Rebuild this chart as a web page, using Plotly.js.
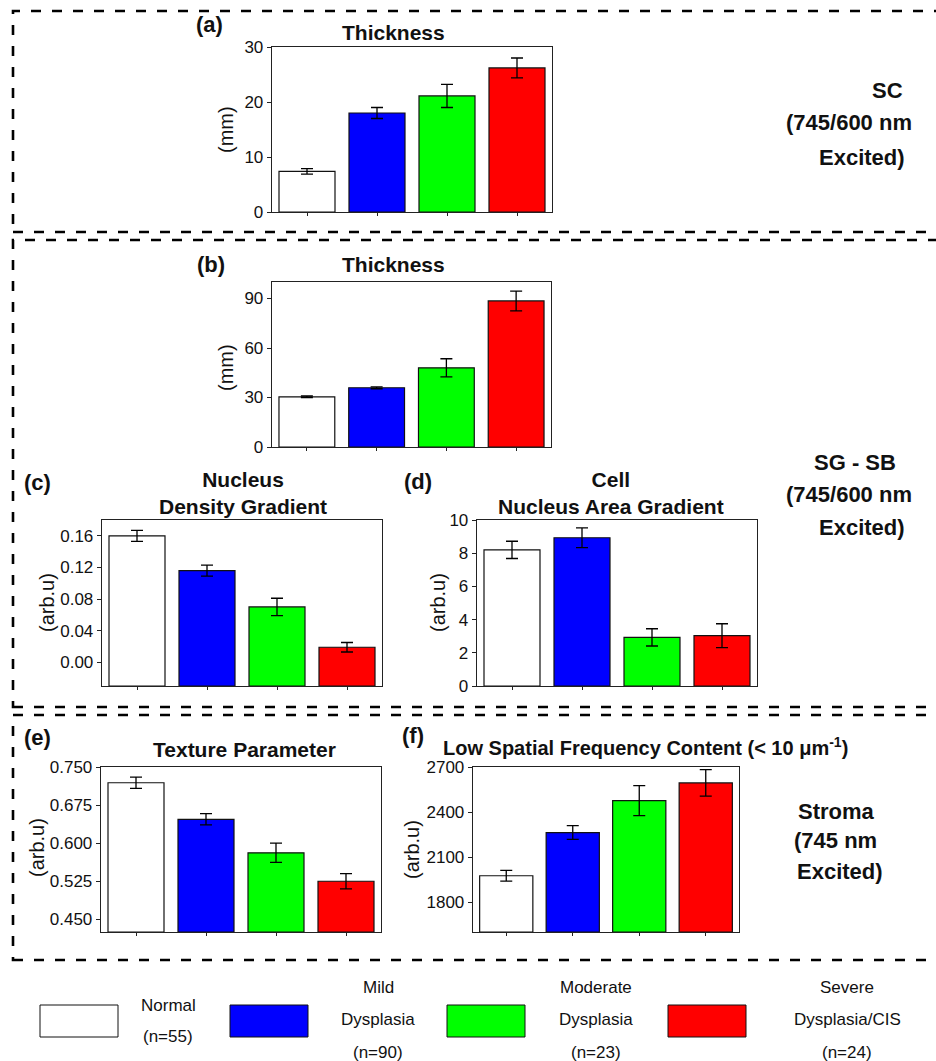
<!DOCTYPE html>
<html>
<head>
<meta charset="utf-8">
<script src="https://cdn.plot.ly/plotly-3.0.1.min.js"></script>
<style>html,body{margin:0;padding:0;background:#fff;}#chart{width:936px;height:1061px;}</style>
</head>
<body>
<div id="chart"></div>
<script>
// ---------- data ----------
const categories = ["Normal", "Mild Dysplasia", "Moderate Dysplasia", "Severe Dysplasia/CIS"];
const barColors = ["#ffffff", "#0000ff", "#00ff00", "#ff0000"];
const legendNames = ["Normal", "Mild<br>Dysplasia", "Moderate<br>Dysplasia", "Severe<br>Dysplasia/CIS"];
const legendCounts = ["(n=55)", "(n=90)", "(n=23)", "(n=24)"];

const scThickness = [7.4, 18.0, 21.1, 26.2];
const scThicknessErr = [0.5, 1.0, 2.1, 1.8];

const sgThickness = [30.4, 35.9, 48.0, 88.5];
const sgThicknessErr = [0.5, 0.6, 5.5, 6.0];

const nucleusDensityGradient = [0.160, 0.116, 0.070, 0.019];
const nucleusDensityGradientErr = [0.007, 0.007, 0.011, 0.006];

const cellNucleusAreaGradient = [8.2, 8.93, 2.93, 3.03];
const cellNucleusAreaGradientErr = [0.52, 0.6, 0.52, 0.72];

const textureParameter = [0.719, 0.647, 0.581, 0.525];
const textureParameterErr = [0.011, 0.011, 0.019, 0.015];

const lowSpatialFreq = [1975, 2263, 2476, 2594];
const lowSpatialFreqErr = [36, 46, 100, 88];

const sideLabelLines = [
  ["SC", "(745/600 nm", "Excited)"],
  ["SG - SB", "(745/600 nm", "Excited)"],
  ["Stroma", "(745 nm", "Excited)"]
];

// ---------- layout helpers ----------
const W = 936, H = 1061;
const FONT = "Liberation Sans, Arial, Helvetica, sans-serif";
const px = x => x / W;
const py = y => 1 - y / H;

const panels = [
  {vals:scThickness, errs:scThicknessErr, x:[272,552], y:[47,212], range:[0,30], tickvals:[0,10,20,30], fmt:"d",
   title:"Thickness", tsize:21, titleXY:[393,33], label:"(a)", labelXY:[209,25], ytitle:"(mm)", ytitleXY:[226,130]},
  {vals:sgThickness, errs:sgThicknessErr, x:[272,551], y:[282,447], range:[0,100], tickvals:[0,30,60,90], fmt:"d",
   title:"Thickness", tsize:21, titleXY:[393,264], label:"(b)", labelXY:[211,265], ytitle:"(mm)", ytitleXY:[226,368]},
  {vals:nucleusDensityGradient, errs:nucleusDensityGradientErr, x:[102,382], y:[520,686], range:[-0.03,0.18], tickvals:[0,0.04,0.08,0.12,0.16], fmt:".2f",
   title:"Nucleus<br>Density Gradient", tsize:21, titleXY:[243,493], label:"(c)", labelXY:[37,483], ytitle:"(arb.u)", ytitleXY:[47,603]},
  {vals:cellNucleusAreaGradient, errs:cellNucleusAreaGradientErr, x:[477,757], y:[520,686], range:[0,10], tickvals:[0,2,4,6,8,10], fmt:"d",
   title:"Cell<br>Nucleus Area Gradient", tsize:21, titleXY:[611,493], label:"(d)", labelXY:[418,481], ytitle:"(arb.u)", ytitleXY:[438,603]},
  {vals:textureParameter, errs:textureParameterErr, x:[101,381], y:[767,932], range:[0.425,0.75], tickvals:[0.45,0.525,0.6,0.675,0.75], fmt:".3f",
   title:"Texture Parameter", tsize:21, titleXY:[244,749], label:"(e)", labelXY:[37,737], ytitle:"(arb.u)", ytitleXY:[37,848]},
  {vals:lowSpatialFreq, errs:lowSpatialFreqErr, x:[473,739], y:[767,932], range:[1600,2700], tickvals:[1800,2100,2400,2700], fmt:"d",
   title:"Low Spatial Frequency Content (< 10 \u03bcm<sup>-1</sup>)", tsize:20, titleXY:[645,746], label:"(f)", labelXY:[413,735], ytitle:"(arb.u)", ytitleXY:[412,850]}
];

const traces = [];
const layout = {
  width: W, height: H,
  margin: {l:0, r:0, t:0, b:0},
  paper_bgcolor: "#fff", plot_bgcolor: "#fff",
  showlegend: false,
  bargap: 0.2,
  font: {family: FONT, color: "#000"},
  annotations: [],
  shapes: []
};

panels.forEach((p, i) => {
  const n = i === 0 ? "" : String(i + 1);
  const base = p.range[0];
  traces.push({
    type: "bar",
    x: categories,
    y: p.vals.map(v => v - base),
    base: base,
    xaxis: "x" + n, yaxis: "y" + n,
    marker: {color: barColors, line: {color: "#111", width: 1.2}},
    error_y: {type: "data", array: p.errs, visible: true, color: "#000", thickness: 1.3, width: 6},
    hoverinfo: "skip"
  });
  layout["xaxis" + n] = {
    domain: [px(p.x[0]), px(p.x[1])],
    anchor: "y" + n,
    type: "category",
    range: [-0.5, 3.5],
    showticklabels: false,
    showline: true, linecolor: "#222", linewidth: 1.3, mirror: true,
    ticks: "outside", ticklen: 3, tickcolor: "#222",
    showgrid: false, zeroline: false, fixedrange: true
  };
  layout["yaxis" + n] = {
    domain: [py(p.y[1]), py(p.y[0])],
    anchor: "x" + n,
    range: p.range,
    tickvals: p.tickvals,
    tickformat: p.fmt,
    tickfont: {family: FONT, size: 17, color: "#111"},
    showline: true, linecolor: "#222", linewidth: 1.3, mirror: true,
    ticks: "outside", ticklen: 4, tickcolor: "#222",
    showgrid: false, zeroline: false, fixedrange: true
  };
  layout.annotations.push(
    {text: "<b>" + p.title + "</b>", xref: "paper", yref: "paper", x: px(p.titleXY[0]), y: py(p.titleXY[1]),
     xanchor: "center", yanchor: "middle", showarrow: false, font: {family: FONT, size: p.tsize, color: "#111"}},
    {text: "<b>" + p.label + "</b>", xref: "paper", yref: "paper", x: px(p.labelXY[0]), y: py(p.labelXY[1]),
     xanchor: "center", yanchor: "middle", showarrow: false, font: {family: FONT, size: 22, color: "#111"}},
    {text: p.ytitle, xref: "paper", yref: "paper", x: px(p.ytitleXY[0]), y: py(p.ytitleXY[1]),
     xanchor: "center", yanchor: "middle", textangle: -90, showarrow: false, font: {family: FONT, size: 20, color: "#111"}}
  );
});

// side labels (one annotation per line for spacing)
const sidePos = [
  [[887, 90], [849, 123], [862, 157]],
  [[855, 462], [849, 494], [862, 527]],
  [[836, 811], [835, 840], [840, 871]]
];
sideLabelLines.forEach((lines, g) => lines.forEach((t, k) => layout.annotations.push({
  text: "<b>" + t + "</b>", xref: "paper", yref: "paper", x: px(sidePos[g][k][0]), y: py(sidePos[g][k][1]),
  xanchor: "center", yanchor: "middle", showarrow: false,
  font: {family: FONT, size: 22, color: "#111"}
})));

// dashed group boxes
const boxes = [[13, 11, 232], [13, 240, 707], [13, 715, 960]];
boxes.forEach(b => layout.shapes.push({
  type: "rect", xref: "paper", yref: "paper",
  x0: px(b[0]), x1: px(W + 20), y0: py(b[2]), y1: py(b[1]),
  line: {color: "#000", width: 2.6, dash: "10px,11px"}, fillcolor: "rgba(0,0,0,0)"
}));

// bottom legend
const legendRects = [[40, 118], [230, 308], [447, 525], [668, 746]];
const legendTextX = [168, 378, 596, 847];
categories.forEach((c, i) => {
  layout.shapes.push({
    type: "rect", xref: "paper", yref: "paper",
    x0: px(legendRects[i][0]), x1: px(legendRects[i][1]), y0: py(1037), y1: py(1005),
    line: {color: "#111", width: 1}, fillcolor: barColors[i]
  });
  const lines = legendNames[i].split("<br>").concat([legendCounts[i]]);
  const startY = i === 0 ? 1005 : 987;
  const step = i === 0 ? 31 : 32.5;
  lines.forEach((t, k) => layout.annotations.push({
    text: t, xref: "paper", yref: "paper", x: px(legendTextX[i]), y: py(startY + k * step),
    xanchor: "center", yanchor: "middle", showarrow: false,
    font: {family: FONT, size: 17, color: "#111"}
  }));
});

Plotly.newPlot("chart", traces, layout, {staticPlot: true, displayModeBar: false});
</script>
</body>
</html>
